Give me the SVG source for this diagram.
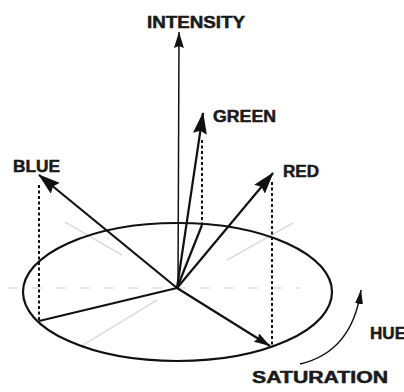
<svg xmlns="http://www.w3.org/2000/svg" width="404" height="392" viewBox="0 0 404 392">
<style>
.lbl{font-family:"Liberation Sans",Arial,sans-serif;font-weight:bold;font-size:16px;fill:#1a1a1a;stroke:#1a1a1a;stroke-width:0.5}
.vec{stroke:#111;stroke-width:2.2;fill:none}
.thin{stroke:#111;stroke-width:1.5;fill:none}
.dot{stroke:#111;stroke-width:2;stroke-dasharray:3 2.5;fill:none}
.faint{stroke:#dedede;stroke-width:1.5;fill:none}
</style>
<defs>
<marker id="big" markerWidth="22" markerHeight="14" refX="21" refY="7" orient="auto" markerUnits="userSpaceOnUse"><path d="M0,0 L22,7 L0,14 L3,7 Z" fill="#111"/></marker>
<marker id="mid" markerWidth="16" markerHeight="10" refX="16" refY="5" orient="auto" markerUnits="userSpaceOnUse"><path d="M0,0 L16,5 L0,10 L2,5 Z" fill="#111"/></marker>
<marker id="small" markerWidth="14" markerHeight="8" refX="14" refY="4" orient="auto" markerUnits="userSpaceOnUse"><path d="M0,0 L14,4 L0,8 Z" fill="#111"/></marker>
</defs>
<rect width="404" height="392" fill="#fff"/>
<g id="background-axes">
<line class="faint" x1="8" y1="288" x2="300" y2="288" stroke-dasharray="10 14" stroke="#e8e8e8"/>
<line class="faint" x1="65" y1="222" x2="122" y2="255"/>
<line class="faint" x1="293" y1="223" x2="227" y2="260"/>
<line class="faint" x1="83" y1="345" x2="157" y2="300"/>
</g>
<g id="hue-circle">
<ellipse cx="177.5" cy="292" rx="154.5" ry="69" class="vec"/>
</g>
<g id="connectors">
<line id="intensity-axis" class="thin" x1="178" y1="288" x2="179" y2="32" marker-end="url(#mid)"/>
<line id="green-vec" class="vec" x1="177" y1="288" x2="203" y2="113" marker-end="url(#big)"/>
<line id="blue-vec" class="vec" x1="177" y1="288" x2="39" y2="175" marker-end="url(#big)"/>
<line id="red-vec" class="vec" x1="177" y1="288" x2="273" y2="173" marker-end="url(#big)"/>
<line class="dot" x1="202" y1="140" x2="202" y2="225"/>
<line class="dot" x1="39" y1="185" x2="39" y2="321"/>
<line class="dot" x1="272" y1="182" x2="272" y2="346"/>
<line class="vec" x1="177" y1="288" x2="202" y2="225"/>
<line class="vec" x1="177" y1="288" x2="39" y2="321"/>
<line id="saturation-vec" class="vec" x1="177" y1="288" x2="270" y2="346" marker-end="url(#mid)"/>
<path id="hue-arrow" class="thin" d="M300,364 Q352,352 361,290" marker-end="url(#small)"/>
</g>
<g id="label-intensity"><text class="lbl" x="147" y="28" textLength="98" lengthAdjust="spacingAndGlyphs">INTENSITY</text></g>
<g id="label-green"><text class="lbl" x="213" y="122" textLength="63" lengthAdjust="spacingAndGlyphs">GREEN</text></g>
<g id="label-blue"><text class="lbl" x="13" y="172" textLength="47" lengthAdjust="spacingAndGlyphs">BLUE</text></g>
<g id="label-red"><text class="lbl" x="283" y="177" textLength="36" lengthAdjust="spacingAndGlyphs">RED</text></g>
<g id="label-hue"><text class="lbl" x="370" y="339" textLength="36" lengthAdjust="spacingAndGlyphs">HUE</text></g>
<g id="label-saturation"><text class="lbl" x="252" y="383" textLength="136" lengthAdjust="spacingAndGlyphs">SATURATION</text></g>
</svg>
